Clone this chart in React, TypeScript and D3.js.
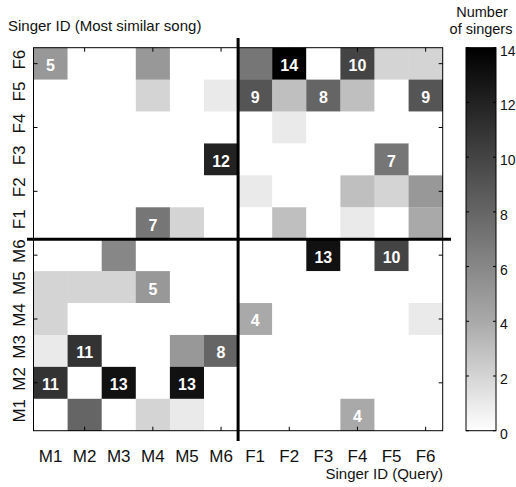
import React from "react";
import * as d3 from "d3";

// Query singers (x) and most similar singers (y, listed top to bottom)
const queries = ["M1", "M2", "M3", "M4", "M5", "M6", "F1", "F2", "F3", "F4", "F5", "F6"];
const similar = ["F6", "F5", "F4", "F3", "F2", "F1", "M6", "M5", "M4", "M3", "M2", "M1"];

// Number of singers, one row per "most similar" singer, columns follow queries
const rowF6 = [5, 0, 0, 5, 0, 0, 7, 14, 0, 10, 2, 2];
const rowF5 = [0, 0, 0, 2, 0, 1, 9, 3, 8, 3, 0, 9];
const rowF4 = [0, 0, 0, 0, 0, 0, 0, 1, 0, 0, 0, 0];
const rowF3 = [0, 0, 0, 0, 0, 12, 0, 0, 0, 0, 7, 0];
const rowF2 = [0, 0, 0, 0, 0, 0, 1, 0, 0, 3, 2, 5];
const rowF1 = [0, 0, 0, 7, 2, 0, 0, 3, 0, 1, 0, 4];
const rowM6 = [0, 0, 6, 0, 0, 0, 0, 0, 13, 0, 10, 0];
const rowM5 = [2, 2, 2, 5, 0, 0, 0, 0, 0, 0, 0, 0];
const rowM4 = [2, 0, 0, 0, 0, 0, 4, 0, 0, 0, 0, 1];
const rowM3 = [1, 11, 0, 0, 5, 8, 0, 0, 0, 0, 0, 0];
const rowM2 = [11, 0, 13, 0, 13, 0, 0, 0, 0, 0, 0, 0];
const rowM1 = [0, 8, 0, 2, 1, 0, 0, 0, 0, 4, 0, 0];
const rows = [rowF6, rowF5, rowF4, rowF3, rowF2, rowF1, rowM6, rowM5, rowM4, rowM3, rowM2, rowM1];

// cells that carry a printed number ("row:query")
const labeled = [
  "F6:M1", "F6:F2", "F6:F4", "F5:F1", "F5:F3", "F5:F6", "F3:M6", "F3:F5",
  "F1:M4", "M6:F3", "M6:F5", "M5:M4", "M4:F1", "M3:M2", "M3:M6",
  "M2:M1", "M2:M3", "M2:M5", "M1:F4",
];

const barTicks = [0, 2, 4, 6, 8, 10, 12, 14];

const App = () => {
  const width = 516;
  const height = 487;
  const left = 33.5, right = 442.7, top = 47.7, bottom = 430.7;
  const font = "'Liberation Sans', Arial, Helvetica, sans-serif";

  const x = d3.scaleBand().domain(queries).range([left, right]);
  const y = d3.scaleBand().domain(similar).range([top, bottom]);
  const color = d3
    .scaleLinear<string>()
    .domain([0, 4, 14])
    .range(["#ffffff", "#a9a9a9", "#000000"]);

  // colorbar
  const cbX = 466, cbW = 30;
  const cbY = d3.scaleLinear().domain([0, 14]).range([bottom, top]);
  const stops = d3.range(0, 14.01, 0.5);

  const cells = [];
  rows.forEach((vals, ri) => {
    vals.forEach((v, ci) => {
      cells.push({ row: similar[ri], col: queries[ci], v });
    });
  });

  const tickLen = 4;
  const xTicked = queries.filter((_, i) => i % 2 === 1);
  const yTicked = similar.filter((_, i) => i % 2 === 0);

  const midX = x("F1");
  const midY = y("M6");

  return (
    <svg width={width} height={height} style={{ position: "absolute", left: 0, top: 0 }}>
      <defs>
        <linearGradient id="cb" x1="0" y1="1" x2="0" y2="0">
          {stops.map((s) => (
            <stop key={s} offset={s / 14} stopColor={color(s)} />
          ))}
        </linearGradient>
      </defs>
      <rect width={width} height={height} fill="#fff" />

      {/* cells */}
      {cells.map((c) => (
        <rect
          key={c.row + c.col}
          x={x(c.col)}
          y={y(c.row)}
          width={x.bandwidth() + 0.3}
          height={y.bandwidth() + 0.3}
          fill={color(c.v)}
        />
      ))}

      {/* frame and ticks */}
      <rect x={left} y={top} width={right - left} height={bottom - top} fill="none" stroke="#000" strokeWidth={1} />
      {xTicked.map((q) => {
        const cx = x(q) + x.bandwidth() / 2;
        return (
          <g key={q} stroke="#000" strokeWidth={1}>
            <line x1={cx} x2={cx} y1={top} y2={top + tickLen} />
            <line x1={cx} x2={cx} y1={bottom} y2={bottom - tickLen} />
          </g>
        );
      })}
      {yTicked.map((s) => {
        const cy = y(s) + y.bandwidth() / 2;
        return (
          <g key={s} stroke="#000" strokeWidth={1}>
            <line x1={left} x2={left + tickLen} y1={cy} y2={cy} />
            <line x1={right} x2={right - tickLen} y1={cy} y2={cy} />
          </g>
        );
      })}

      {/* gender dividers */}
      <line x1={midX} x2={midX} y1={38} y2={441} stroke="#000" strokeWidth={3} />
      <line x1={27} x2={451} y1={midY} y2={midY} stroke="#000" strokeWidth={3} />

      {/* cell numbers */}
      {cells
        .filter((c) => labeled.includes(`${c.row}:${c.col}`))
        .map((c) => (
          <text
            key={"t" + c.row + c.col}
            x={x(c.col) + x.bandwidth() / 2}
            y={y(c.row) + y.bandwidth() / 2 + 7.5}
            textAnchor="middle"
            fill="#fff"
            fontFamily={font}
            fontWeight="bold"
            fontSize={16}
          >
            {c.v}
          </text>
        ))}

      {/* tick labels */}
      {queries.map((q) => (
        <text
          key={"x" + q}
          x={x(q) + x.bandwidth() / 2}
          y={461.5}
          textAnchor="middle"
          fontFamily={font}
          fontSize={17}
          fill="#111"
        >
          {q}
        </text>
      ))}
      {similar.map((s) => {
        const cy = y(s) + y.bandwidth() / 2 - 4;
        return (
          <text
            key={"y" + s}
            transform={`translate(25,${cy}) rotate(-90)`}
            textAnchor="middle"
            fontFamily={font}
            fontSize={17}
            fill="#111"
          >
            {s}
          </text>
        );
      })}

      {/* axis titles */}
      <text x={8} y={31} fontFamily={font} fontSize={15} fill="#111">
        Singer ID (Most similar song)
      </text>
      <text x={443} y={479} textAnchor="end" fontFamily={font} fontSize={15} fill="#111">
        Singer ID (Query)
      </text>

      {/* colorbar */}
      <rect x={cbX} y={top} width={cbW} height={bottom - top} fill="url(#cb)" stroke="#000" strokeWidth={1} />
      {barTicks.map((t) => (
        <g key={"c" + t}>
          <line x1={cbX} x2={cbX + 3} y1={cbY(t)} y2={cbY(t)} stroke="#000" />
          <line x1={cbX + cbW} x2={cbX + cbW - 3} y1={cbY(t)} y2={cbY(t)} stroke="#000" />
          <text
            x={cbX + cbW + 4}
            y={cbY(t) + 8}
            fontFamily={font}
            fontSize={14}
            fill="#111"
          >
            {t}
          </text>
        </g>
      ))}
      <text x={482} y={16.5} textAnchor="middle" fontFamily={font} fontSize={14.5} fill="#111">
        Number
      </text>
      <text x={481} y={34} textAnchor="middle" fontFamily={font} fontSize={14.5} fill="#111">
        of singers
      </text>
    </svg>
  );
};

export default App;
